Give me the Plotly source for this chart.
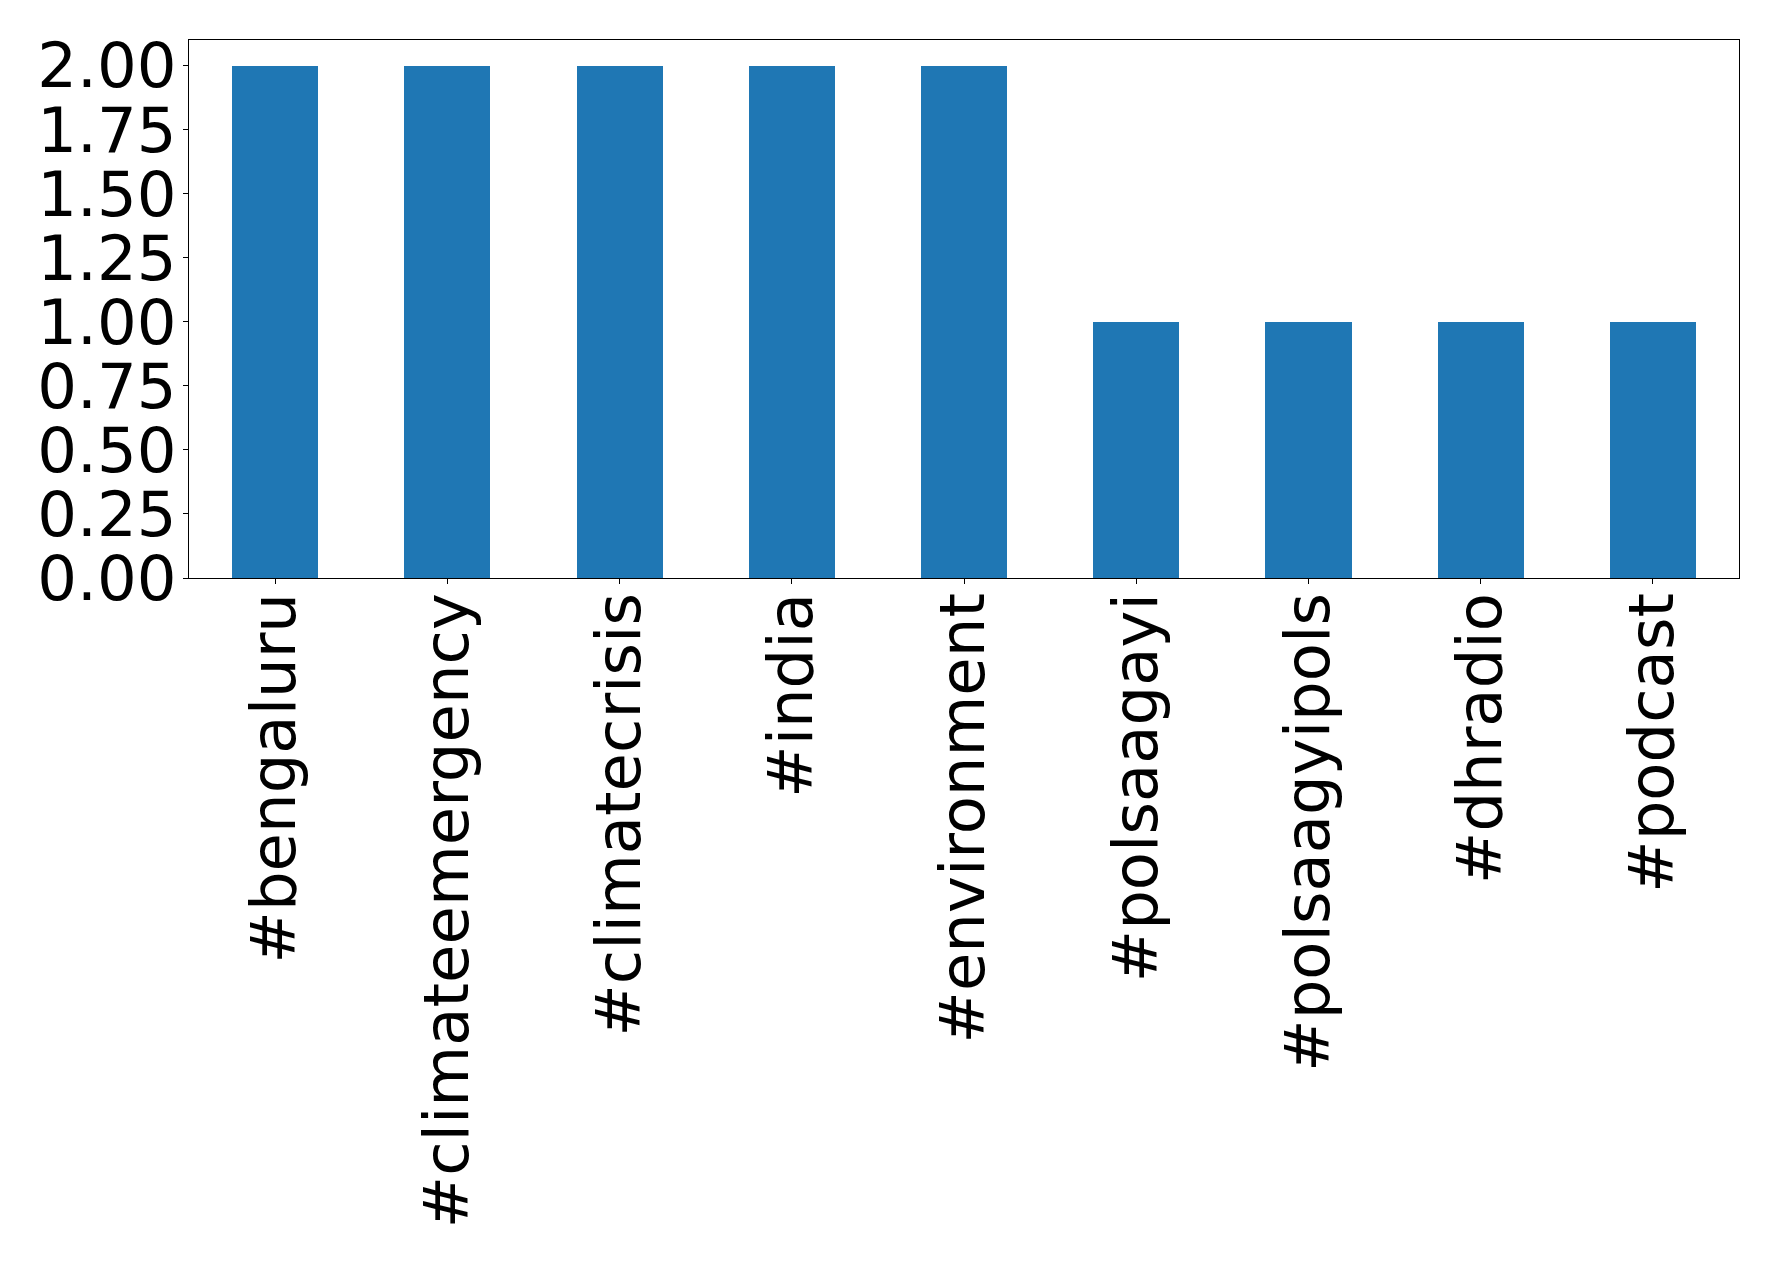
import plotly.graph_objects as go

categories = ["#bengaluru", "#climateemergency", "#climatecrisis", "#india",
              "#environment", "#polsaagayi", "#polsaagyipols", "#dhradio", "#podcast"]
counts = [2, 2, 2, 2, 2, 1, 1, 1, 1]
y_ticks = [0, 0.25, 0.5, 0.75, 1.0, 1.25, 1.5, 1.75, 2.0]
y_tick_labels = ["0.00", "0.25", "0.50", "0.75", "1.00", "1.25", "1.50", "1.75", "2.00"]

fig = go.Figure(go.Bar(x=list(range(len(categories))), y=counts, width=0.5,
                       marker=dict(color="#1f77b4", line=dict(width=0))))

font = dict(family="DejaVu Sans", size=62.5, color="black")
fig.update_layout(
    width=1770, height=1255,
    margin=dict(l=181, r=39, t=32, b=685),
    paper_bgcolor="white", plot_bgcolor="white",
    showlegend=False, bargap=0,
    font=font,
)
fig.update_xaxes(
    range=[-0.5, 8.5], tickmode="array", tickvals=list(range(len(categories))),
    ticktext=categories, tickangle=-90, ticks="outside", ticklen=5, tickwidth=1.1,
    tickcolor="black", showline=True, linecolor="black", linewidth=1.1, mirror=True,
    showgrid=False, zeroline=False, tickfont=font, automargin=False,
    ticklabelstandoff=-16,
)
fig.update_yaxes(
    range=[0, 2.1], tickmode="array", tickvals=y_ticks, ticktext=y_tick_labels,
    ticks="outside", ticklen=5, tickwidth=1.1, tickcolor="black",
    showline=True, linecolor="black", linewidth=1.1, mirror=True,
    showgrid=False, zeroline=False, tickfont=font, automargin=False,
    ticklabelstandoff=-6,
)
fig.write_html("out.html")
